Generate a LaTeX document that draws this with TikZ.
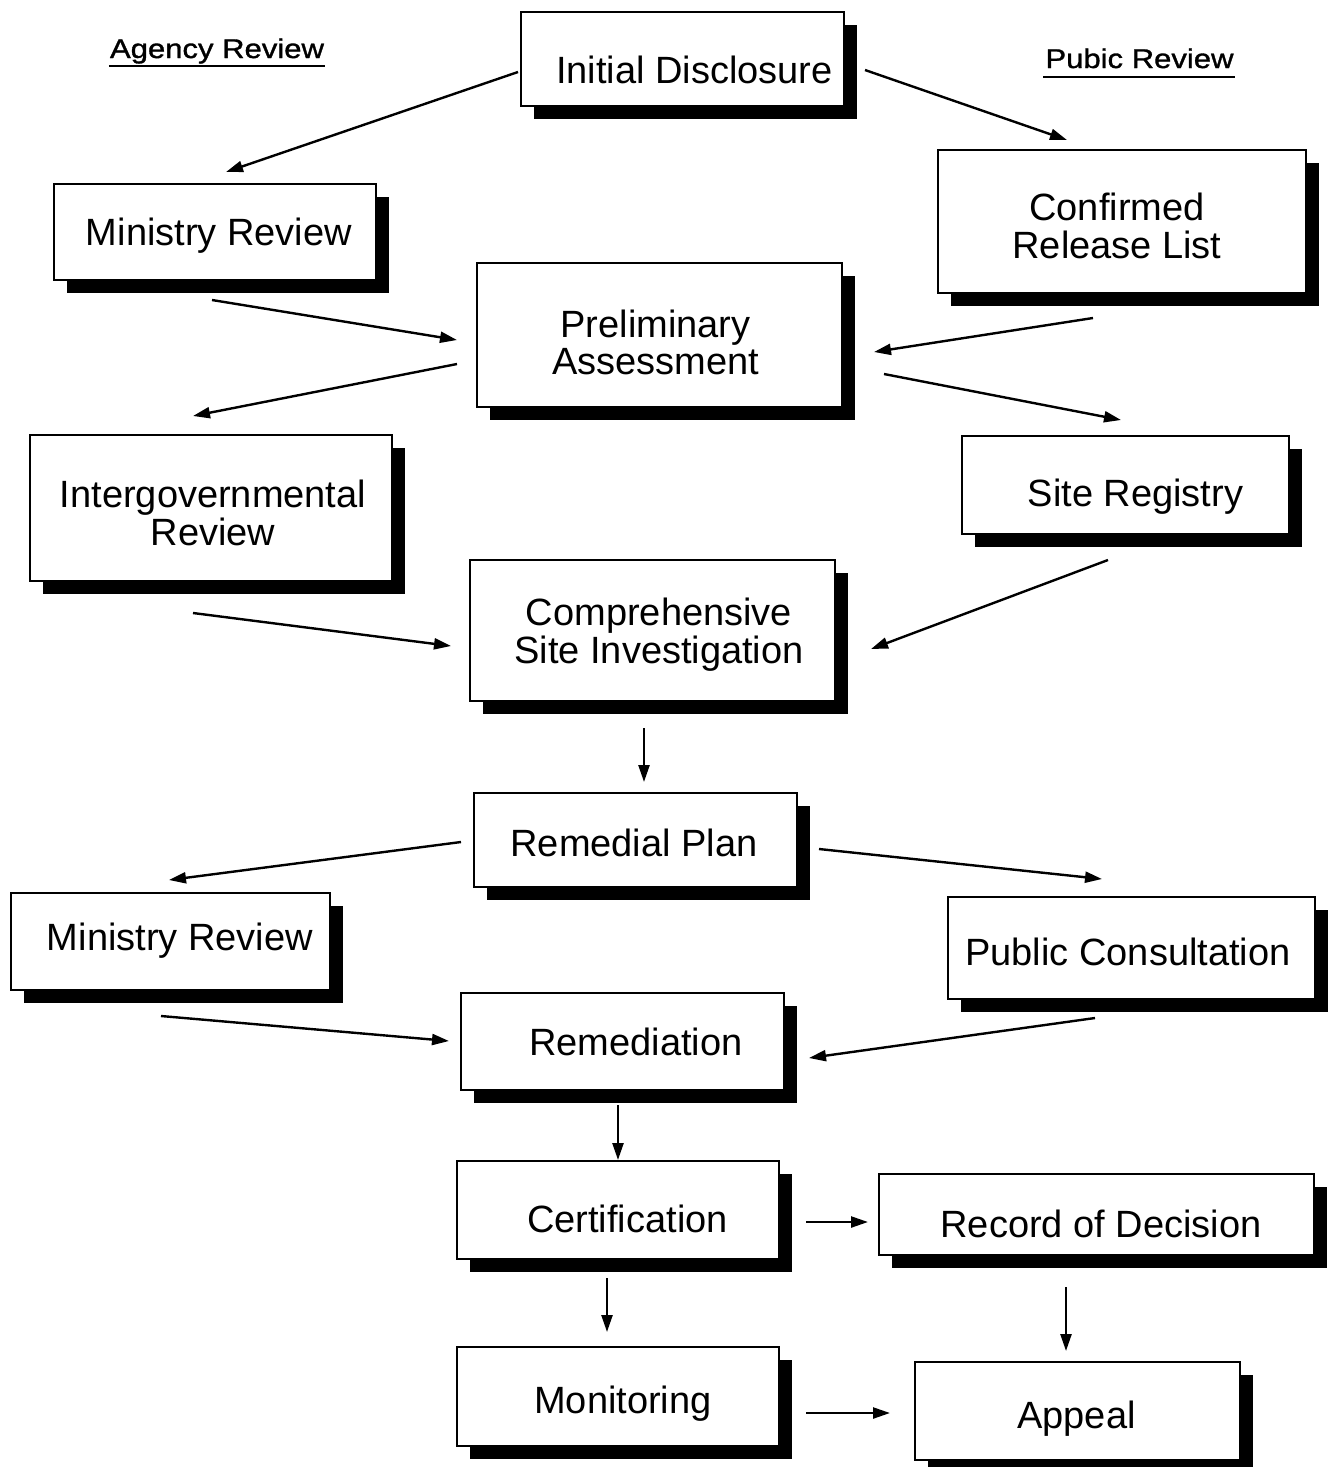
\documentclass[tikz,border=0pt]{standalone}
\usepackage{fontspec}
\setmainfont{Liberation Sans}
\newfontfamily\hdfont[FakeStretch=1.15,FakeBold=1.2]{Liberation Sans}
\usetikzlibrary{shadows,arrows.meta}
% text placed with horizontal offset #1 and first baseline #2 below the box centre
\newcommand\bt[3]{\makebox[0pt][c]{\hspace*{#1}\hspace*{#1}\raisebox{-#2}[0pt][0pt]{\begin{tabular}[t]{@{}c@{}}#3\end{tabular}}}}
\tikzset{
  box/.style={draw, line width=2.6pt, fill=white, inner sep=0pt,
    font=\fontsize{38}{37.5}\selectfont,
    drop shadow={shadow xshift=13pt, shadow yshift=-13pt, fill=black, opacity=1}},
  conn/.style={line width=2.4pt, -{Triangle[length=17pt,width=11pt]}},
  head/.style={font=\hdfont\fontsize{27}{29}\selectfont, inner sep=0pt, anchor=base},
  uline/.style={line width=2.8pt}
}
\begin{document}
\begin{tikzpicture}[x=1pt,y=-1pt]
\useasboundingbox (0,0) rectangle (1336,1467);
% headers
\node[head] (agency) at (217,58) {Agency Review};
\node[head] (pubic) at (1139.5,68) {Pubic Review};
\draw[uline] ([xshift=-1pt,yshift=-8pt]agency.base west) -- ([xshift=1pt,yshift=-8pt]agency.base east);
\draw[uline] ([xshift=-2pt,yshift=-9pt]pubic.base west) -- ([xshift=1pt,yshift=-9pt]pubic.base east);
% boxes
\node[box, minimum width=323pt, minimum height=94pt] (init) at (682.5,59) {\bt{12pt}{24pt}{Initial Disclosure}};
\node[box, minimum width=322pt, minimum height=96pt] (mr1) at (215,232) {\bt{4pt}{13pt}{Ministry Review}};
\node[box, minimum width=368pt, minimum height=143pt] (crl) at (1122,221.5) {\bt{-5pt}{-1.5pt}{Confirmed\\Release List}};
\node[box, minimum width=365pt, minimum height=144pt] (pa) at (659.5,335) {\bt{-4pt}{2pt}{Preliminary\\Assessment}};
\node[box, minimum width=362pt, minimum height=146pt] (igr) at (211,508) {\bt{2pt}{-1pt}{Intergovernmental\\Review}};
\node[box, minimum width=327pt, minimum height=98pt] (sr) at (1125.5,485) {\bt{10pt}{21pt}{Site Registry}};
\node[box, minimum width=365pt, minimum height=141pt] (csi) at (652.5,630.5) {\bt{6.5pt}{-5.5pt}{Comprehensive\\Site Investigation}};
\node[box, minimum width=323pt, minimum height=94pt] (rp) at (635.5,840) {\bt{-1.5pt}{16pt}{Remedial Plan}};
\node[box, minimum width=319pt, minimum height=97pt] (mr2) at (170.5,941.5) {\bt{9.5pt}{8.5pt}{Ministry Review}};
\node[box, minimum width=367pt, minimum height=102pt] (pc) at (1131.5,948) {\bt{-3.5pt}{17pt}{Public Consultation}};
\node[box, minimum width=323pt, minimum height=97pt] (rem) at (622.5,1041.5) {\bt{13.5pt}{13.5pt}{Remediation}};
\node[box, minimum width=322pt, minimum height=98pt] (cert) at (618,1210) {\bt{9.5pt}{22pt}{Certification}};
\node[box, minimum width=435pt, minimum height=81pt] (rod) at (1096.5,1214.5) {\bt{4.5pt}{22.5pt}{Record of Decision}};
\node[box, minimum width=322pt, minimum height=99pt] (mon) at (618,1396.5) {\bt{5pt}{16.5pt}{Monitoring}};
\node[box, minimum width=325pt, minimum height=98pt] (app) at (1077.5,1411) {\bt{-1pt}{17pt}{Appeal}};
% connector end points
\coordinate (a1s) at (518,72);   \coordinate (a1e) at (226,172);
\coordinate (a2s) at (865,70);   \coordinate (a2e) at (1067,140);
\coordinate (a3s) at (212,300);  \coordinate (a3e) at (457,340);
\coordinate (a4s) at (1093,318); \coordinate (a4e) at (874,352);
\coordinate (a5s) at (457,364);  \coordinate (a5e) at (193,416);
\coordinate (a6s) at (884,374);  \coordinate (a6e) at (1121,420);
\coordinate (a7s) at (193,613);  \coordinate (a7e) at (451,646);
\coordinate (a8s) at (1108,560); \coordinate (a8e) at (871,649);
\coordinate (a9s) at (644,728);  \coordinate (a9e) at (644,782);
\coordinate (a10s) at (461,842); \coordinate (a10e) at (169,880);
\coordinate (a11s) at (819,849); \coordinate (a11e) at (1102,879);
\coordinate (a12s) at (161,1016);\coordinate (a12e) at (449,1041);
\coordinate (a13s) at (1095,1018);\coordinate (a13e) at (809,1058);
\coordinate (a14s) at (618,1105);\coordinate (a14e) at (618,1160);
\coordinate (a15s) at (806,1222);\coordinate (a15e) at (868,1222);
\coordinate (a16s) at (607,1278);\coordinate (a16e) at (607,1332);
\coordinate (a17s) at (1066,1287);\coordinate (a17e) at (1066,1351);
\coordinate (a18s) at (806,1413);\coordinate (a18e) at (890,1413);
% connectors
\foreach \i in {1,...,18} {\draw[conn] (a\i s) -- (a\i e);}
\end{tikzpicture}
\end{document}
